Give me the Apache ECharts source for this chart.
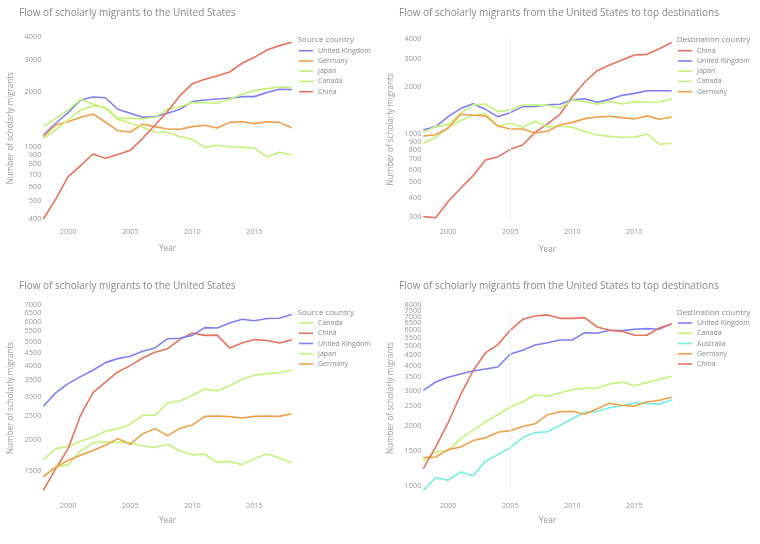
<!DOCTYPE html>
<html>
<head>
<meta charset="utf-8">
<script src="https://cdn.jsdelivr.net/npm/echarts@6/dist/echarts.min.js"></script>
<style>
html,body{margin:0;padding:0;background:#fff}
#main{width:760px;height:544px}
</style>
</head>
<body>
<div id="main"></div>
<script>
// years on the x axis
var years = [1998,1999,2000,2001,2002,2003,2004,2005,2006,2007,2008,2009,2010,2011,2012,2013,2014,2015,2016,2017,2018];
var xTicks = [2000,2005,2010,2015];

// top left: flow to the US
var inA_uk = [1160,1346,1538,1808,1878,1860,1607,1527,1451,1464,1527,1607,1770,1808,1831,1848,1886,1886,1985,2070,2060];
var inA_de = [1136,1317,1373,1451,1514,1367,1225,1205,1329,1290,1251,1246,1290,1313,1268,1361,1373,1340,1373,1361,1273];
var inA_jp = [1290,1432,1592,1823,1719,1627,1414,1346,1279,1205,1200,1136,1098,991,1018,1000,995,980,881,931,900];
var inA_ca = [1112,1236,1403,1592,1675,1650,1432,1432,1426,1451,1607,1661,1748,1748,1734,1823,1943,2035,2088,2131,2115];
var inA_cn = [400,515,684,787,912,863,907,955,1112,1317,1560,1909,2223,2349,2451,2577,2877,3104,3408,3600,3757];
var ticksA = [400,500,600,700,800,900,1000,2000,3000,4000];

// top right: flow from the US
var outA_cn = [303,298,377,457,547,690,721,805,857,1031,1164,1339,1730,2142,2524,2741,2949,3171,3201,3475,3807];
var outA_uk = [1067,1120,1294,1455,1563,1440,1294,1372,1497,1503,1535,1550,1656,1680,1595,1664,1764,1816,1888,1888,1888];
var outA_jp = [879,959,1109,1221,1327,1355,1130,1176,1109,1210,1115,1130,1109,1041,991,972,959,959,1007,867,879];
var outA_ca = [1031,1120,1148,1359,1535,1556,1392,1426,1529,1535,1529,1462,1648,1610,1550,1610,1556,1610,1594,1602,1680];
var outA_de = [977,996,1093,1339,1321,1309,1130,1082,1082,1021,1046,1148,1191,1258,1289,1302,1277,1252,1309,1246,1289];
var ticksB = [300,400,500,600,700,800,900,1000,2000,3000,4000];

// bottom left: flow to the US
var inB_ca = [1667,1847,1882,1976,2058,2170,2224,2323,2517,2517,2822,2877,3033,3213,3160,3304,3520,3656,3710,3743,3828];
var inB_cn = [1253,1532,1847,2517,3107,3430,3766,3996,4291,4522,4677,5103,5412,5292,5305,4711,4934,5090,5050,4934,5077];
var inB_uk = [2737,3100,3380,3606,3828,4108,4264,4356,4566,4711,5132,5154,5292,5687,5670,5940,6148,6068,6190,6210,6421];
var inB_jp = [1422,1555,1591,1807,1952,1964,1958,1952,1892,1869,1922,1807,1741,1757,1625,1640,1591,1683,1757,1697,1615];
var inB_de = [1422,1555,1658,1735,1813,1904,2027,1922,2122,2224,2084,2230,2302,2493,2500,2486,2456,2493,2500,2493,2556];
var ticksC = [1500,2000,2500,3000,3500,4000,4500,5000,5500,6000,6500,7000];

// bottom right: flow from the US
var outB_uk = [3008,3310,3493,3631,3757,3843,3935,4571,4766,5070,5205,5367,5367,5842,5797,5999,5976,6069,6116,6069,6479];
var outB_ca = [1328,1479,1502,1726,1898,2088,2272,2481,2629,2858,2813,2926,3031,3078,3090,3235,3307,3172,3286,3415,3535];
var outB_au = [950,1104,1070,1175,1125,1328,1435,1555,1747,1849,1866,2010,2170,2334,2362,2463,2520,2602,2584,2565,2700];
var outB_de = [1387,1397,1520,1568,1687,1740,1856,1892,1982,2046,2272,2351,2362,2283,2435,2591,2532,2509,2629,2682,2775];
var outB_cn = [1222,1568,2072,2858,3757,4624,5089,5999,6808,7080,7163,6886,6886,6942,6233,5999,5930,5665,5665,6163,6455];
var ticksD = [1000,1500,2000,2500,3000,3500,4000,4500,5000,5500,6000,6500,7000,7500,8000];

var colors = {
  'China': '#e8735e',
  'United Kingdom': '#7f80f6',
  'Germany': '#f0a04a',
  'Japan': '#c4f27c',
  'Canada': '#c4f27c',
  'Australia': '#72efe0'
};
var FONT = 'Open Sans';

function line(name, vals, idx) {
  return {
    name: name,
    type: 'line',
    xAxisIndex: idx,
    yAxisIndex: idx,
    symbol: 'none',
    color: colors[name],
    lineStyle: {width: 1.6, color: colors[name]},
    data: years.map(function (y, i) { return [y, vals[i]]; })
  };
}

function xAx(idx, margin) {
  return {
    gridIndex: idx, type: 'value', min: 1998, max: 2018,
    name: 'Year', nameLocation: 'middle', nameGap: 26,
    nameTextStyle: {fontFamily: FONT, fontSize: 8.2, color: '#999'},
    axisLine: {show: false}, axisTick: {show: false}, splitLine: {show: false},
    axisLabel: {
      customValues: xTicks, margin: margin, fontFamily: FONT, fontSize: 7.3, color: '#999',
      formatter: function (v) { return String(v); }
    }
  };
}

function yAx(idx, min, max, ticks, name) {
  return {
    gridIndex: idx, type: 'log', min: min, max: max, position: 'left', offset: 0,
    name: name, nameLocation: 'middle', nameGap: 29,
    nameTextStyle: {fontFamily: FONT, fontSize: 8.1, color: '#999'},
    axisLine: {show: false}, axisTick: {show: false}, splitLine: {show: false},
    axisLabel: {
      customValues: ticks, margin: 2, fontFamily: FONT, fontSize: 7.3, color: '#999',
      showMinLabel: true, showMaxLabel: true, hideOverlap: false,
      formatter: function (v) { return String(Math.round(v)); }
    }
  };
}

function leg(names, left, top) {
  return {
    data: names, orient: 'vertical', left: left, top: top, padding: 0,
    icon: 'rect', itemWidth: 14, itemHeight: 1.6, itemGap: 0.25, selectedMode: false,
    textStyle: {fontFamily: FONT, fontSize: 7.0, color: '#888', lineHeight: 10}
  };
}

function ttl(text, left, top, size) {
  return {
    text: text, left: left, top: top, padding: 0,
    textStyle: {fontFamily: FONT, fontSize: size, fontWeight: 'normal', color: '#888', lineHeight: 12}
  };
}

var chart = echarts.init(document.getElementById('main'));

var gridLine = {
  silent: true, symbol: 'none', label: {show: false},
  lineStyle: {color: '#f3f3f3', width: 1, type: 'solid'},
  data: [{xAxis: 2005}]
};

var series = [
  line('United Kingdom', inA_uk, 0), line('Germany', inA_de, 0), line('Japan', inA_jp, 0),
  line('Canada', inA_ca, 0), line('China', inA_cn, 0),
  line('China', outA_cn, 1), line('United Kingdom', outA_uk, 1), line('Japan', outA_jp, 1),
  line('Canada', outA_ca, 1), line('Germany', outA_de, 1),
  line('Canada', inB_ca, 2), line('China', inB_cn, 2), line('United Kingdom', inB_uk, 2),
  line('Japan', inB_jp, 2), line('Germany', inB_de, 2),
  line('United Kingdom', outB_uk, 3), line('Canada', outB_ca, 3), line('Australia', outB_au, 3),
  line('Germany', outB_de, 3), line('China', outB_cn, 3)
];
series[5].markLine = gridLine;
series[15].markLine = gridLine;

// the bottom right ticks sit close together: split them over two axes so none get dropped
var ticksD_even = ticksD.filter(function (v, i) { return i % 2 === 0; });
var ticksD_odd = ticksD.filter(function (v, i) { return i % 2 === 1; });
var yName = 'Number of scholarly migrants';

var option = {
  backgroundColor: '#fff',
  animation: false,
  title: [
    ttl('Flow of scholarly migrants to the United States', 19, 7, 10),
    ttl('Flow of scholarly migrants from the United States to top destinations', 399, 7, 10),
    ttl('Flow of scholarly migrants to the United States', 19, 280, 10),
    ttl('Flow of scholarly migrants from the United States to top destinations', 399, 280, 10),
    ttl('Source country', 297.7, 34, 8.0),
    ttl('Destination country', 676.7, 34, 8.0),
    ttl('Source country', 297.7, 306.7, 8.0),
    ttl('Destination country', 676.7, 306.3, 8.0)
  ],
  legend: [
    leg(['United Kingdom', 'Germany', 'Japan', 'Canada', 'China'], 299, 45.7),
    leg(['China', 'United Kingdom', 'Japan', 'Canada', 'Germany'], 678, 45.7),
    leg(['Canada', 'China', 'United Kingdom', 'Japan', 'Germany'], 299, 318),
    leg(['United Kingdom', 'Canada', 'Australia', 'Germany', 'China'], 678, 318)
  ],
  grid: [
    {left: 43.3, top: 37.3, width: 248.4, height: 181.7},
    {left: 423.3, top: 39, width: 248.4, height: 180.6},
    {left: 43.3, top: 305.3, width: 248.4, height: 185.3},
    {left: 423.3, top: 305.3, width: 248.4, height: 185.2}
  ],
  xAxis: [xAx(0, 9), xAx(1, 9), xAx(2, 11.5), xAx(3, 11.5)],
  yAxis: [
    yAx(0, 400, 4000.5, ticksA, yName),
    yAx(1, 290, 4000.5, ticksB, yName),
    yAx(2, 1250, 7000.5, ticksC, yName),
    yAx(3, 950, 8000.5, ticksD_even, yName),
    yAx(3, 950, 8000.5, ticksD_odd, '')
  ],
  series: series
};

chart.setOption(option);
</script>
</body>
</html>
